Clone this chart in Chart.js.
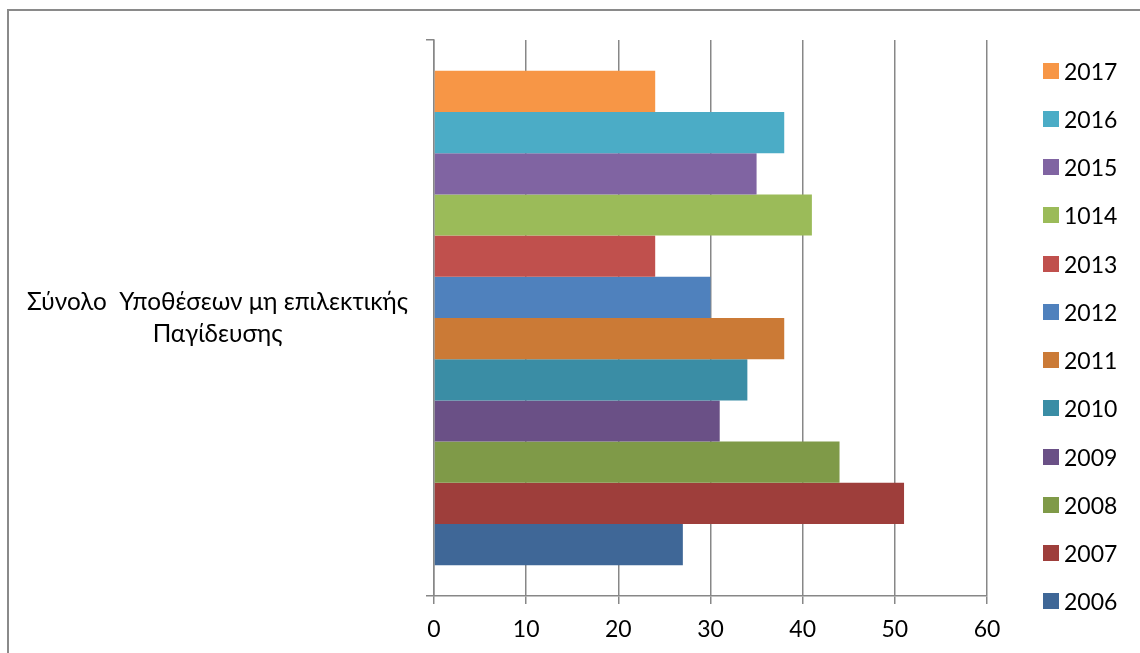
<!DOCTYPE html>
<html>
<head>
<meta charset="utf-8">
<script src="https://cdn.jsdelivr.net/npm/chart.js@4/dist/chart.umd.min.js"></script>
<style>
  html, body { margin: 0; padding: 0; background: #fff; }
  #wrap { position: relative; width: 1140px; height: 653px; overflow: hidden; background: #fff; }
  #frame { position: absolute; left: 7px; top: 9px; width: 1300px; height: 800px;
           border-top: 2px solid #8a8a8a; border-left: 2px solid #8a8a8a; }
  #chart { position: absolute; left: 0; top: 0; }
  #legend { position: absolute; left: 0; top: 0; width: 1140px; height: 653px; pointer-events: none; }
  .lg-box { position: absolute; width: 16px; height: 16px; }
  .lg-text { position: absolute; font-family: Lato, 'Open Sans', sans-serif; font-size: 23px;
             line-height: 26px; color: #000; white-space: nowrap; }
</style>
</head>
<body>
<div id="wrap">
  <div id="frame"></div>
  <canvas id="chart" width="1140" height="653"></canvas>
  <div id="legend"></div>
</div>
<script>
// Single category, one bar per year (listed top to bottom)
const categories = [['Σύνολο  Υποθέσεων μη επιλεκτικής', 'Παγίδευσης']];
const seriesLabels = ['2017', '2016', '2015', '1014', '2013', '2012', '2011', '2010', '2009', '2008', '2007', '2006'];
const seriesValues = [24, 38, 35, 41, 24, 30, 38, 34, 31, 44, 51, 27];
const seriesColors = ['#F79646', '#4BACC6', '#8064A2', '#9BBB59', '#C0504D', '#4F81BD',
                      '#CB7A36', '#3A8DA5', '#6A5086', '#7F9A48', '#9E3E3B', '#3F6797'];
const xTickLabels = [0, 10, 20, 30, 40, 50, 60];

const FONT = "Lato, 'Open Sans', sans-serif";
const GRID = '#878787';

const datasets = seriesLabels.map((label, i) => ({
  label: label,
  data: [seriesValues[i]],
  backgroundColor: seriesColors[i],
  borderWidth: 0,
  categoryPercentage: 0.889,
  barPercentage: 1.0
}));

const chart = new Chart(document.getElementById('chart'), {
  type: 'bar',
  data: { labels: categories, datasets: datasets },
  options: {
    indexAxis: 'y',
    responsive: false,
    animation: false,
    layout: { padding: { left: 0, right: 153, top: 40, bottom: 0 } },
    plugins: { legend: { display: false }, tooltip: { enabled: false } },
    scales: {
      x: {
        min: xTickLabels[0],
        max: xTickLabels[xTickLabels.length - 1],
        ticks: {
          stepSize: xTickLabels[1] - xTickLabels[0],
          color: '#000',
          font: { family: FONT, size: 23 },
          padding: 12,
          maxRotation: 0
        },
        grid: { color: GRID, lineWidth: 1.5, tickLength: 8, drawTicks: true },
        border: { color: GRID, width: 1.5 },
        afterFit: (scale) => { scale.height = 57; }
      },
      y: {
        ticks: {
          crossAlign: 'center',
          color: '#000',
          font: { family: FONT, size: 24.3, lineHeight: 1.3 },
          padding: 18
        },
        grid: { drawOnChartArea: false, offset: true, color: GRID, lineWidth: 1.5, tickLength: 8 },
        border: { color: GRID, width: 1.5 },
        afterFit: (scale) => {
          scale.width = 434;
          scale.paddingTop = 0;
          scale.paddingBottom = 0;
        }
      }
    }
  }
});

// Legend column on the right, same order as the bars
const legend = document.getElementById('legend');
chart.data.datasets.forEach((ds, i) => {
  const cy = 70.5 + i * 48.27;
  const box = document.createElement('div');
  box.className = 'lg-box';
  box.style.left = '1043px';
  box.style.top = (cy - 8) + 'px';
  box.style.background = ds.backgroundColor;
  legend.appendChild(box);
  const txt = document.createElement('div');
  txt.className = 'lg-text';
  txt.style.left = '1064px';
  txt.style.top = (cy - 13) + 'px';
  txt.textContent = ds.label;
  legend.appendChild(txt);
});
</script>
</body>
</html>
